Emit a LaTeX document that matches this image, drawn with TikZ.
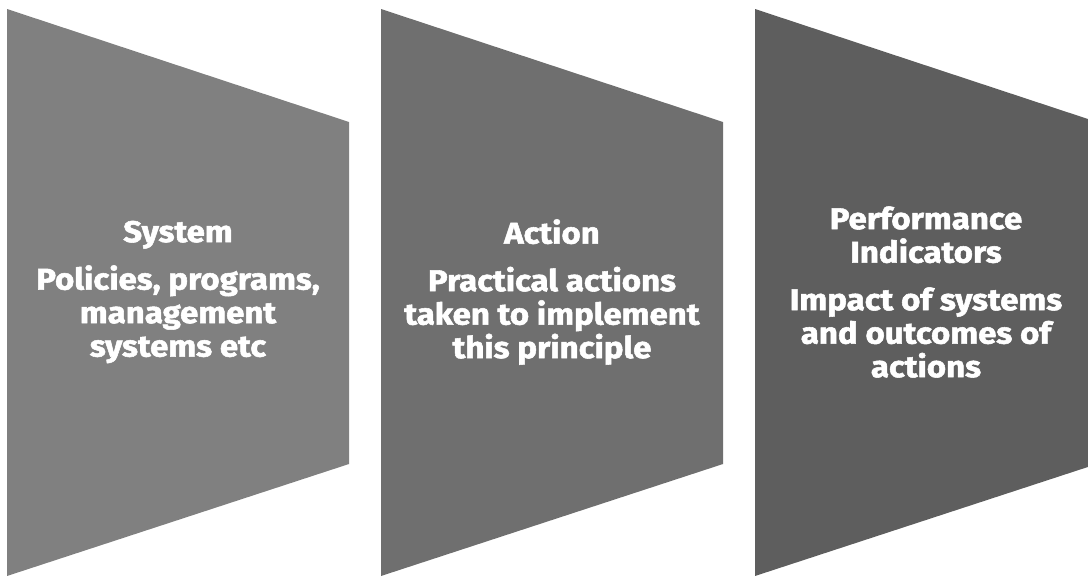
\documentclass[tikz,border=0pt]{standalone}
\usepackage{fontspec}
\setmainfont{Fira Sans}[FakeStretch=1.1,BoldFeatures={FakeBold=1.8}]
\definecolor{gA}{HTML}{808080}
\definecolor{gB}{HTML}{6F6F6F}
\definecolor{gC}{HTML}{5E5E5E}
\tikzset{
  label text/.style={text=white, align=center, font=\bfseries\fontsize{30}{33.5}\selectfont},
}
\begin{document}
\begin{tikzpicture}[x=1pt,y=-1pt]
\useasboundingbox (0,0) rectangle (1088,576);
\begin{scope}
\clip (0,0) rectangle (1088,576);
\fill[gA] (7,9) -- (349,122) -- (349,464) -- (7,576) -- cycle;
\fill[gB] (381,9) -- (723,122) -- (723,464) -- (381,576) -- cycle;
\fill[gC] (755,9) -- (1097,122) -- (1097,464) -- (755,576) -- cycle;
\end{scope}
\node[label text] (sys) at (178,292) {System\\[14pt]Policies, programs,\\management\\systems etc};
\node[label text] (act) at (552,292) {Action\\[14pt]Practical actions\\taken to implement\\this principle};
\node[label text] (perf) at (926,292) {Performance\\Indicators\\[14pt]Impact of systems\\and outcomes of\\actions};
\end{tikzpicture}
\end{document}
